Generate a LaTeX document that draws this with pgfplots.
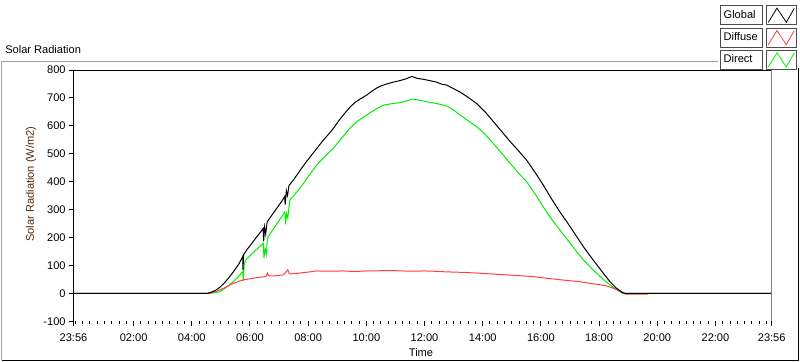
\documentclass[border=0pt]{standalone}
\usepackage{fontspec}
\setmainfont{Liberation Sans}
\usepackage{pgfplots}
\pgfplotsset{compat=1.18}
\definecolor{gline}{HTML}{00EE00}
\definecolor{rline}{HTML}{FF4040}
\definecolor{ylab}{HTML}{4D2B12}
\definecolor{frame}{HTML}{A0A0A0}
\newcommand{\tf}{\fontsize{8.3}{10}\selectfont}
\begin{document}
\begin{tikzpicture}
\useasboundingbox (-55.125pt,-29.85pt) rectangle (544.875pt,240.9pt);
\begin{axis}[
  at={(0pt,0pt)}, anchor=south west,
  scale only axis, width=523.65pt, height=188.4pt,
  xmin=-0.066667, xmax=23.933333, ymin=-100, ymax=800,
  axis line style={draw=none},
  clip=false,
  tick align=outside, xtick pos=bottom, ytick pos=left,
  major tick length=3.6pt, minor tick length=2pt,
  tick style={black, line width=0.75pt},
  minor tick style={black, line width=0.75pt},
  xtick={-0.066667,2,4,6,8,10,12,14,16,18,20,22,23.933333},
  xticklabels={23:56,02:00,04:00,06:00,08:00,10:00,12:00,14:00,16:00,18:00,20:00,22:00,23:56},
  minor xtick={0,0.25,...,23.75},
  ytick={-100,0,100,200,300,400,500,600,700,800},
  yticklabels={-100,0,100,200,300,400,500,600,700,800},
  ticklabel style={font=\tf, text=black},
  xticklabel style={yshift=-2.2pt},
  yticklabel style={xshift=1.2pt},
  ylabel={Solar Radiation (W/m2)},
  ylabel style={at={(axis description cs:-0.0609,0.546)}, anchor=center, font=\tf, text=ylab},
  xlabel={Time},
  xlabel style={at={(axis description cs:0.4977,-0.1266)}, anchor=center, font=\tf},
  reverse legend,
  legend plot pos=right,
  legend cell align=left,
  legend image code/.code={
    \draw[black!70, fill=white, line width=0.75pt] (0pt,-7.1pt) rectangle (22.5pt,7.1pt);
    \draw[#1, line width=0.6pt] (1.5pt,-5.3pt) -- (8pt,5.3pt) -- (15pt,-5.3pt) -- (21pt,5.3pt);
  },
  legend style={at={(axis description cs:1.03634,1.25876)}, anchor=north east,
    draw=none, fill=none, inner sep=0pt, row sep=1.8pt, column sep=2.25pt,
    font=\tf,
    nodes={draw=black!70, fill=white, line width=0.75pt, minimum height=14.2pt,
      text width=27pt, inner xsep=2pt, inner ysep=0pt, align=left}},
]
% Direct
\addplot[color=gline, line width=0.75pt] coordinates {
(-0.066667,0) (4.62,0) (4.8,2) (4.97,6) (5.2,22) (5.43,42) (5.6,60) (5.74,77) (5.75,78)
(5.77,45) (5.8,102) (5.85,119) (6.0,134) (6.2,155) (6.46,179) (6.48,126) (6.52,160)
(6.56,140) (6.6,195) (6.63,203) (6.8,230) (7.0,260) (7.2,292) (7.22,247) (7.26,285)
(7.3,270) (7.37,334) (7.5,350) (7.72,376) (8.0,418) (8.29,459) (8.55,488) (8.86,519)
(9.15,556) (9.43,591) (9.7,617) (10.01,639) (10.3,658) (10.58,674) (10.85,679)
(11.15,683) (11.4,690) (11.6,696) (11.8,692) (12.0,688) (12.25,683) (12.5,678)
(12.76,671) (13.0,657) (13.22,639) (13.5,618) (13.79,597) (14.1,568) (14.36,537)
(14.65,502) (14.94,466) (15.2,434) (15.51,400) (15.8,356) (16.08,310) (16.35,268)
(16.65,227) (16.95,187) (17.23,149) (17.5,115) (17.8,83) (18.1,54) (18.37,30)
(18.6,14) (18.72,6) (18.8,0) (23.933333,0)
};
\addlegendentry{Direct}
% Diffuse
\addplot[color=rline, line width=0.75pt] coordinates {
(-0.066667,0) (4.62,0) (4.97,12) (5.43,36) (5.77,48) (6.0,52) (6.3,57) (6.55,60)
(6.6,72) (6.65,62) (6.9,63) (7.15,66) (7.3,84) (7.35,70) (7.5,70) (8.0,76) (8.29,80)
(8.7,79) (9.2,80) (9.6,78) (10.0,80) (10.58,81) (11.0,81) (11.5,79) (12.0,80)
(12.3,79) (12.7,77) (13.3,75) (13.9,72) (14.5,68) (15.0,65) (15.7,60) (16.2,54)
(16.8,47) (17.3,42) (17.8,34) (18.2,28) (18.5,18) (18.78,5) (18.85,0) (18.9,-3)
(19.65,-3) (19.7,0) (23.933333,0)
};
\addlegendentry{Diffuse}
% Global
\addplot[color=black, line width=0.75pt] coordinates {
(-0.066667,0) (4.55,0) (4.7,5) (4.85,13) (4.97,22) (5.1,35) (5.25,53) (5.43,77)
(5.6,102) (5.73,127) (5.75,132) (5.76,84) (5.78,138) (5.9,157) (6.05,177) (6.2,198)
(6.35,218) (6.45,232) (6.47,186) (6.5,238) (6.54,212) (6.59,255) (6.63,262) (6.8,287)
(6.95,309) (7.1,331) (7.19,346) (7.21,318) (7.25,368) (7.29,350) (7.34,386) (7.5,407)
(7.72,440) (7.9,466) (8.1,493) (8.29,518) (8.5,546) (8.7,570) (8.86,590) (9.05,618)
(9.25,644) (9.43,666) (9.6,683) (9.8,697) (10.01,710) (10.2,725) (10.35,735)
(10.5,743) (10.7,750) (10.9,756) (11.15,762) (11.35,768) (11.57,777) (11.75,770)
(11.95,767) (12.18,762) (12.4,757) (12.6,749) (12.76,746) (13.0,733) (13.22,721)
(13.5,702) (13.79,680) (14.1,648) (14.36,616) (14.65,580) (14.94,544) (15.2,514)
(15.51,477) (15.8,433) (16.08,388) (16.35,341) (16.65,292) (16.95,247) (17.23,203)
(17.5,161) (17.8,119) (18.1,78) (18.37,42) (18.6,18) (18.8,3) (18.9,0) (23.933333,0)
};
\addlegendentry{Global}
\draw[black, line width=0.75pt] (axis description cs:0,0) -- (axis description cs:0,1) -- (axis description cs:1,1);
\draw[black!50, line width=0.75pt] (axis description cs:1,1) -- (axis description cs:1,0);
\end{axis}
\draw[frame, line width=0.75pt] (483.375pt,194.4pt) -- (-53.625pt,194.4pt) -- (-53.625pt,-29.1pt);
\draw[black, line width=0.75pt] (-53.625pt,-29.1pt) -- (543.375pt,-29.1pt) -- (543.375pt,189.9pt);
\node[anchor=base west, font=\tf, inner sep=0pt] at (-51.375pt,200.4pt) {Solar Radiation};
\end{tikzpicture}
\end{document}
